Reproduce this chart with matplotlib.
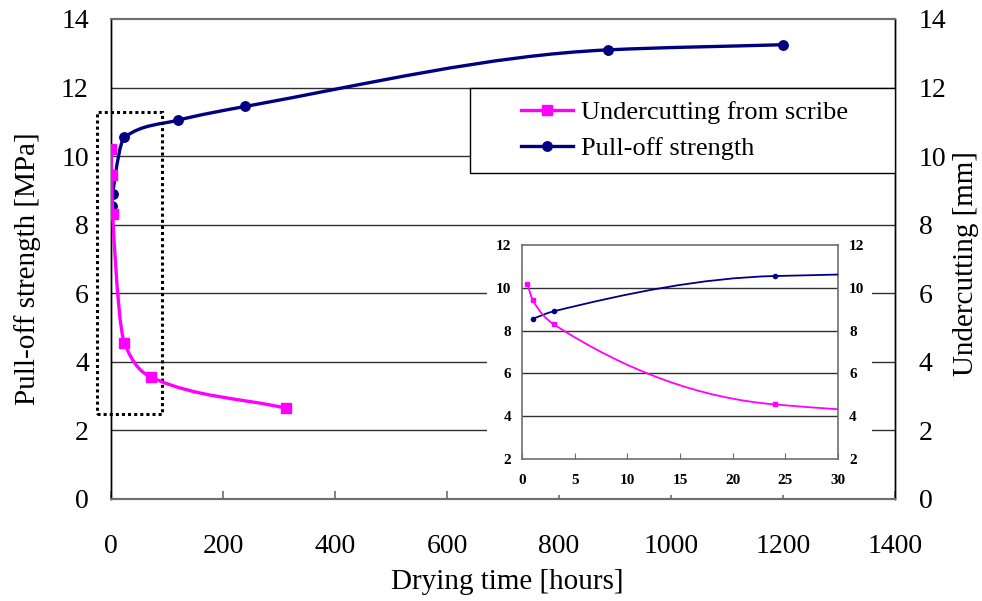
import numpy as np
import matplotlib.pyplot as plt
from matplotlib.path import Path
from matplotlib.patches import PathPatch, Rectangle
from matplotlib.lines import Line2D

plt.rcParams['font.family'] = ['Liberation Serif', 'DejaVu Serif']

# -----------------------
# DATA
# -----------------------
undercut_hours = [0.5, 1, 3, 24, 72, 312]
undercut_mm = [10.2, 9.45, 8.3, 4.55, 3.55, 2.65]

pull_hours = [1, 3, 24, 120, 240, 888, 1200]
pull_mpa = [8.55, 8.9, 10.55, 11.05, 11.45, 13.1, 13.25]

main_xticks = np.arange(0, 1401, 200)
main_yticks = np.arange(0, 15, 2)
inset_xticks = np.arange(0, 31, 5)
inset_yticks = np.arange(2, 13, 2)

MAGENTA = '#FF00FF'
NAVY = '#000080'
FRAME = '#6e6e6e'
GRID = '#303030'


def smooth_path(x, y):
    # smoothed line: monotone cubic Hermite segments, written as Bezier curves
    x = np.asarray(x, float)
    y = np.asarray(y, float)
    h = np.diff(x)
    d = np.diff(y) / h
    m = np.empty_like(y)
    m[0], m[-1] = d[0], d[-1]
    for i in range(1, len(x) - 1):
        if d[i - 1] * d[i] <= 0:
            m[i] = 0.0
        else:
            w1 = 2 * h[i] + h[i - 1]
            w2 = h[i] + 2 * h[i - 1]
            m[i] = (w1 + w2) / (w1 / d[i - 1] + w2 / d[i])
    verts = [(x[0], y[0])]
    codes = [Path.MOVETO]
    for i in range(len(x) - 1):
        s = h[i] / 3
        verts += [(x[i] + s, y[i] + m[i] * s),
                  (x[i + 1] - s, y[i + 1] - m[i + 1] * s),
                  (x[i + 1], y[i + 1])]
        codes += [Path.CURVE4] * 3
    return Path(verts, codes)


def draw_series(ax, x, y, color, marker, ms, lw):
    ax.add_patch(PathPatch(smooth_path(x, y), fill=False, edgecolor=color,
                           lw=lw, joinstyle='round', capstyle='round', zorder=3))
    ax.plot(x, y, linestyle='none', marker=marker, ms=ms, color=color, zorder=4)


# -----------------------
# FIGURE / MAIN AXES
# -----------------------
W, H = 982, 601
fig = plt.figure(figsize=(W / 100, H / 100), dpi=100)


def fx(px):
    return px / W


def fy(py):
    return 1 - py / H


ax = fig.add_axes([fx(111), fy(499), fx(895) - fx(111), fy(19) - fy(499)])
ax2 = ax.twinx()

for a in (ax, ax2):
    a.set_xlim(0, 1400)
    a.set_ylim(0, 14)
    a.set_yticks(main_yticks)
    for side in ('top', 'bottom'):
        a.spines[side].set_color(FRAME)
        a.spines[side].set_linewidth(1.5)
    for side in ('left', 'right'):
        a.spines[side].set_color('black')
        a.spines[side].set_linewidth(1.0)

ax.set_xticks(main_xticks)
for v in main_yticks[1:-1]:
    ax.axhline(v, color=GRID, lw=1.0, zorder=1)

ax.tick_params(axis='x', direction='in', length=6, width=1.2, color=FRAME,
               pad=25, labelsize=20)
ax.tick_params(axis='y', length=0, pad=16, labelsize=20)
ax2.tick_params(axis='y', length=0, pad=17, labelsize=20)

ax.set_xlabel('Drying time [hours]', fontsize=21, va='center')
ax.xaxis.set_label_coords(0.505, -0.172)
ax.set_ylabel('Pull-off strength [MPa]', fontsize=21, va='center')
ax.yaxis.set_label_coords(-0.107, 0.48)
ax2.set_ylabel('Undercutting [mm]', fontsize=21, va='center', rotation=90)
ax2.yaxis.set_label_coords(1.09, 0.49)

draw_series(ax, pull_hours, pull_mpa, NAVY, 'o', 6.8, 2.4)
draw_series(ax2, undercut_hours, undercut_mm, MAGENTA, 's', 6.8, 2.4)

# dotted frame around the early-time region shown in the inset
ax.add_patch(Rectangle((-25, 2.48), 116, 8.81, fill=False, edgecolor='black',
                       lw=2.2, linestyle=(0, (1, 1)), clip_on=False, zorder=5))

# legend box
ax2.add_patch(Rectangle((641, 9.5), 759, 2.5, facecolor='white',
                        edgecolor='black', lw=1.0, zorder=4))
handles = [
    Line2D([], [], color=MAGENTA, lw=2.4, marker='s', ms=6.8),
    Line2D([], [], color=NAVY, lw=2.4, marker='o', ms=6.8),
]
ax2.legend(handles, ['Undercutting from scribe', 'Pull-off strength'],
           loc='center', bbox_to_anchor=(1024, 10.75),
           bbox_transform=ax2.transData, frameon=False, fontsize=19,
           handlelength=2.0, handletextpad=0.3, labelspacing=0.5,
           borderpad=0)

# -----------------------
# INSET (first 30 hours)
# -----------------------
fig.add_artist(Rectangle((fx(487), fy(495)), fx(872) - fx(487), fy(232) - fy(495),
                         transform=fig.transFigure, facecolor='white',
                         edgecolor='none', zorder=1))

ins = fig.add_axes([fx(522), fy(459), fx(838) - fx(522), fy(245) - fy(459)], zorder=2)
ins.set_xlim(0, 30)
ins.set_ylim(2, 12)
ins.set_xticks(inset_xticks)
ins.set_yticks(inset_yticks)
for v in inset_yticks[1:-1]:
    ins.axhline(v, color=GRID, lw=1.0, zorder=1)
for side in ins.spines.values():
    side.set_color(FRAME)
    side.set_linewidth(1.2)

ins.tick_params(axis='x', direction='in', length=4, color=FRAME, pad=11)
ins.tick_params(axis='y', length=0, pad=8, labelright=True)
for t in ins.xaxis.get_major_ticks() + ins.yaxis.get_major_ticks():
    for lab in (t.label1, t.label2):
        lab.set_fontsize(11)
        lab.set_fontweight('bold')

draw_series(ins, pull_hours, pull_mpa, NAVY, 'o', 3, 1.3)
draw_series(ins, undercut_hours, undercut_mm, MAGENTA, 's', 3, 1.3)

fig.savefig('out.png', dpi=100)
